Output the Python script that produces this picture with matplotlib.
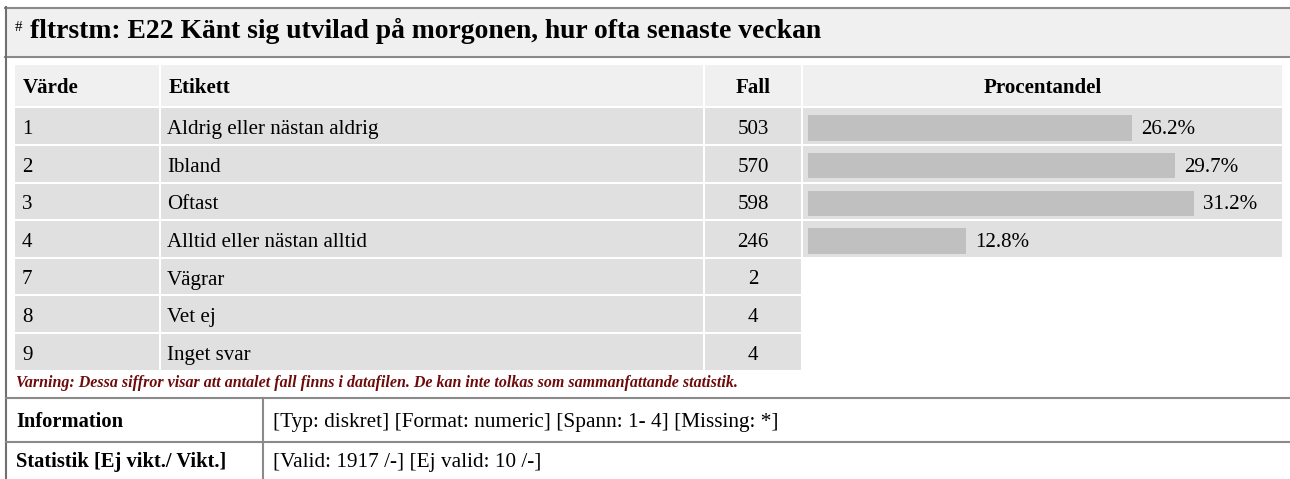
import matplotlib.pyplot as plt
from matplotlib.patches import Rectangle

plt.rcParams['font.family'] = ['Liberation Serif', 'DejaVu Serif']

# data
title = "fltrstm: E22 Känt sig utvilad på morgonen, hur ofta senaste veckan"
headers = ["Värde", "Etikett", "Fall", "Procentandel"]
values = ["1", "2", "3", "4", "7", "8", "9"]
labels = ["Aldrig eller nästan aldrig", "Ibland", "Oftast", "Alltid eller nästan alltid",
          "Vägrar", "Vet ej", "Inget svar"]
cases = [503, 570, 598, 246, 2, 4, 4]
percent = [26.2, 29.7, 31.2, 12.8]
warning = ("Varning: Dessa siffror visar att antalet fall finns i datafilen. "
           "De kan inte tolkas som sammanfattande statistik.")
info_label = "Information"
info_text = "[Typ: diskret] [Format: numeric] [Spann: 1- 4] [Missing: *]"
stat_label = "Statistik [Ej vikt./ Vikt.]"
stat_text = "[Valid: 1917 /-] [Ej valid: 10 /-]"

W, H = 1290, 479
PX = 0.72  # px -> pt at dpi 100
FS = 21 * PX  # body text

fig = plt.figure(figsize=(W / 100, H / 100), dpi=100)
ax = fig.add_axes([0, 0, 1, 1])
ax.set_xlim(0, W)
ax.set_ylim(H, 0)
ax.axis('off')

# title box
ax.add_patch(Rectangle((5, 7), W - 5, 50, facecolor='#f0f0f0', edgecolor='none'))
ax.plot([5, W], [7.5, 7.5], color='#8a8a8a', lw=1.5)
ax.plot([5, W], [57, 57], color='#8a8a8a', lw=1.5)
ax.plot([5.5, 5.5], [7, H], color='#707070', lw=1.5)
ax.text(15, 31, "#", fontsize=15 * PX, ha='left', va='baseline')
ax.text(30, 37.5, title, fontsize=27.6 * PX, fontweight='bold', ha='left', va='baseline')

# table grid
col_edges = [15, 161, 705, 803, 1284]
row_top0, row_h = 108.3, 37.6

# header
for c in range(4):
    ax.add_patch(Rectangle((col_edges[c], 65), col_edges[c + 1] - col_edges[c] - 2, 41.3,
                           facecolor='#f0f0f0', edgecolor='none'))
hdr_font = dict(fontsize=FS, fontweight='bold', va='baseline')
hdr_base = 92.5
ax.text(23, hdr_base, headers[0], ha='left', **hdr_font)
ax.text(169, hdr_base, headers[1], ha='left', **hdr_font)
ax.text((col_edges[2] + col_edges[3] - 2) / 2, hdr_base, headers[2], ha='center', **hdr_font)
ax.text((col_edges[3] + col_edges[4] - 2) / 2, hdr_base, headers[3], ha='center', **hdr_font)

# rows
for i in range(len(values)):
    top = row_top0 + row_h * i
    ncols = 4 if i < len(percent) else 3
    for c in range(ncols):
        ax.add_patch(Rectangle((col_edges[c], top), col_edges[c + 1] - col_edges[c] - 2, row_h - 2,
                               facecolor='#e0e0e0', edgecolor='none'))
    base = top + 25.8
    ax.text(22, base, values[i], fontsize=FS, ha='left', va='baseline')
    ax.text(167, base, labels[i], fontsize=FS, ha='left', va='baseline')
    ax.text((col_edges[2] + col_edges[3] - 2) / 2, base, str(cases[i]),
            fontsize=FS, ha='center', va='baseline')

# percent bars
bar_x0, px_per_pct = 808, 12.36
bar_right = 1282
bax = fig.add_axes([bar_x0 / W, 1 - (row_top0 + 1 + row_h * 4) / H,
                    (bar_right - bar_x0) / W, row_h * 4 / H])
bax.set_xlim(0, (bar_right - bar_x0) / px_per_pct)
bax.set_ylim(len(percent) - 0.5, -0.5)
bax.axis('off')
bax.patch.set_alpha(0)
ypos = list(range(len(percent)))
bax.barh(ypos, percent, height=0.675, left=0, color='#c0c0c0')
for y, p in zip(ypos, percent):
    bax.text(p + 9 / px_per_pct, y + 0.16, f"{p}%", fontsize=FS, ha='left', va='baseline')

# warning
ax.text(16, 387, warning, fontsize=16 * PX, fontweight='bold', fontstyle='italic',
        color='#6e0a0a', ha='left', va='baseline')

# information block
ax.plot([6, W], [398, 398], color='#8a8a8a', lw=1.5)
ax.plot([6, W], [442, 442], color='#8a8a8a', lw=1.5)
ax.plot([263, 263], [398, H], color='#8a8a8a', lw=1.5)
ax.text(16, 427, info_label, fontsize=20.5 * PX, fontweight='bold', ha='left', va='baseline')
ax.text(273, 427, info_text, fontsize=21.3 * PX, ha='left', va='baseline')
ax.text(16, 467, stat_label, fontsize=20.5 * PX, fontweight='bold', ha='left', va='baseline')
ax.text(273, 467, stat_text, fontsize=21.3 * PX, ha='left', va='baseline')

fig.savefig("out.png", dpi=100)
